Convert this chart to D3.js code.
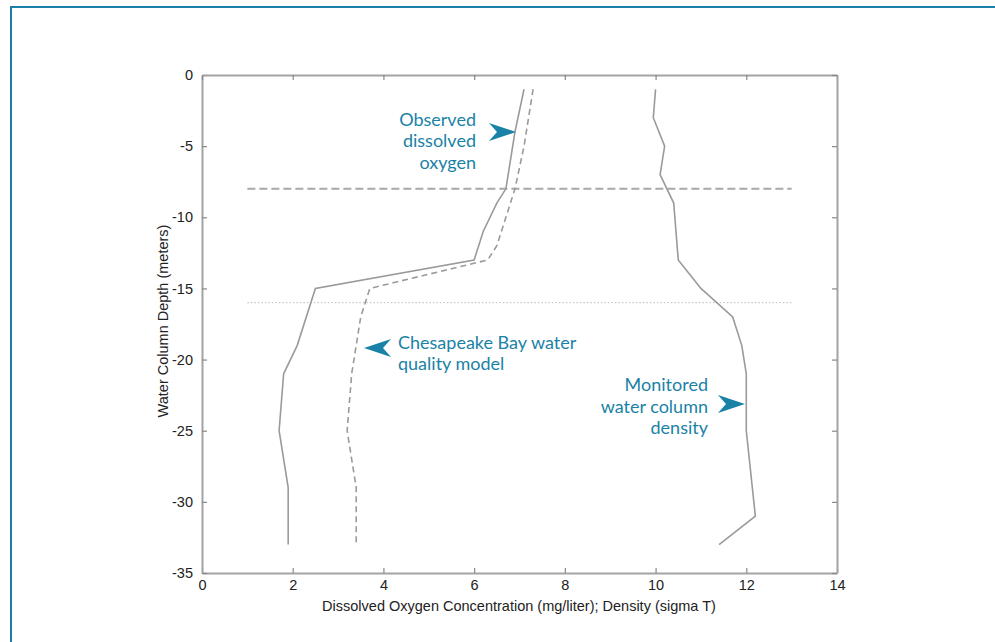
<!DOCTYPE html>
<html>
<head>
<meta charset="utf-8">
<script src="https://cdn.jsdelivr.net/npm/d3@7"></script>
<style>
  body { margin: 0; background: #fff; }
  svg { display: block; }
  .tick text { font-family: "Liberation Sans", Arial, sans-serif; font-size: 14.5px; fill: #222; }
  .axis-label { font-family: "Liberation Sans", Arial, sans-serif; font-size: 14.5px; fill: #222; }
  .note { font-family: Lato, "Open Sans", sans-serif; font-size: 18px; fill: #1a82a6; }
</style>
</head>
<body>
<svg id="chart"></svg>
<script>
// observed dissolved oxygen [mg/l, depth m]
const observedDO = [
  [7.1, -1], [6.9, -4], [6.7, -8], [6.5, -9], [6.2, -11], [6.0, -13],
  [2.5, -15], [2.1, -19], [1.8, -21], [1.7, -25], [1.9, -29], [1.9, -33]
];
// water quality model dissolved oxygen
const modelDO = [
  [7.3, -1], [7.1, -5], [6.9, -8], [6.7, -10], [6.5, -12], [6.3, -13],
  [3.7, -15], [3.5, -17], [3.3, -21], [3.2, -25], [3.4, -29], [3.4, -33]
];
// monitored density (sigma T)
const density = [
  [10.0, -1], [9.95, -3], [10.2, -5], [10.1, -7], [10.4, -9], [10.5, -13],
  [11.0, -15], [11.7, -17], [11.9, -19], [12.0, -21], [12.0, -25],
  [12.2, -31], [11.4, -33]
];
// reference depths: pycnocline bounds
const refLines = [
  {depth: -8, x0: 1, x1: 13, style: 'dash'},
  {depth: -16, x0: 1, x1: 13, style: 'dot'}
];
const xTicks = [0, 2, 4, 6, 8, 10, 12, 14];
const yTicks = [0, -5, -10, -15, -20, -25, -30, -35];

const width = 995, height = 642;
const margin = {top: 75, right: 158, bottom: 69, left: 202};
const innerW = width - margin.left - margin.right;
const innerH = height - margin.top - margin.bottom;

const svg = d3.select('#chart').attr('width', width).attr('height', height);

// page frame
svg.append('path')
  .attr('d', `M11,${height} L11,7 L${width},7`)
  .attr('fill', 'none')
  .attr('stroke', '#1b7fa7')
  .attr('stroke-width', 2);

const xScale = d3.scaleLinear().domain([0, 14]).range([0, innerW]);
const yScale = d3.scaleLinear().domain([-35, 0]).range([innerH, 0]);

const chart = svg.append('g')
  .attr('transform', `translate(${margin.left},${margin.top})`);

const axisColor = '#a3a3a3';
const plain = d => String(d);   // keep hyphen-minus like the original

// axes with inward ticks on all four sides
chart.append('g')
  .attr('transform', `translate(0,${innerH})`)
  .call(d3.axisBottom(xScale).tickValues(xTicks).tickFormat(plain)
    .tickSizeInner(-5).tickSizeOuter(0).tickPadding(7));
chart.append('g')
  .call(d3.axisLeft(yScale).tickValues(yTicks).tickFormat(plain)
    .tickSizeInner(-5).tickSizeOuter(0).tickPadding(9));
chart.append('g')
  .call(d3.axisTop(xScale).tickValues(xTicks).tickSizeInner(-5).tickSizeOuter(0).tickFormat(''));
chart.append('g')
  .attr('transform', `translate(${innerW},0)`)
  .call(d3.axisRight(yScale).tickValues(yTicks).tickSizeInner(-5).tickSizeOuter(0).tickFormat(''));

chart.selectAll('.domain').attr('stroke', axisColor).attr('stroke-width', 2);
chart.selectAll('.tick line').attr('stroke', '#888').attr('stroke-width', 1.2);

// reference lines
chart.selectAll('.ref')
  .data(refLines)
  .join('line')
  .attr('class', 'ref')
  .attr('x1', d => xScale(d.x0))
  .attr('x2', d => xScale(d.x1))
  .attr('y1', d => yScale(d.depth))
  .attr('y2', d => yScale(d.depth))
  .attr('stroke', d => d.style === 'dash' ? '#a8a8a8' : '#bbb')
  .attr('stroke-width', d => d.style === 'dash' ? 2 : 1)
  .attr('stroke-dasharray', d => d.style === 'dash' ? '8,4' : '1.5,2');

const line = d3.line().x(d => xScale(d[0])).y(d => yScale(d[1]));

chart.append('path').datum(observedDO)
  .attr('d', line).attr('fill', 'none')
  .attr('stroke', '#9a9a9a').attr('stroke-width', 1.6);

chart.append('path').datum(modelDO)
  .attr('d', line).attr('fill', 'none')
  .attr('stroke', '#9a9a9a').attr('stroke-width', 1.6)
  .attr('stroke-dasharray', '6,4');

chart.append('path').datum(density)
  .attr('d', line).attr('fill', 'none')
  .attr('stroke', '#9a9a9a').attr('stroke-width', 1.6);

// axis labels
svg.append('text')
  .attr('class', 'axis-label')
  .attr('text-anchor', 'middle')
  .attr('x', 519)
  .attr('y', 611)
  .text('Dissolved Oxygen Concentration (mg/liter); Density (sigma T)');

svg.append('text')
  .attr('class', 'axis-label')
  .attr('text-anchor', 'middle')
  .attr('transform', 'translate(168,321) rotate(-90)')
  .text('Water Column Depth (meters)');

// annotations
const teal = '#1a82a6';
const arrow = (tipX, tipY, dir) => {
  // notched arrowhead, dir = 1 points right, -1 points left
  const L = 27, H = 9, N = 8;
  return `M${tipX},${tipY} L${tipX - dir * L},${tipY - H} L${tipX - dir * (L - N)},${tipY} L${tipX - dir * L},${tipY + H} Z`;
};

// one text element per line
const lineGap = 21.6;
function note(lines, x, y, anchor) {
  svg.append('g').selectAll('text')
    .data(lines)
    .join('text')
    .attr('class', 'note')
    .attr('text-anchor', anchor)
    .attr('x', x)
    .attr('y', (d, i) => y + i * lineGap)
    .text(d => d);
}

note(['Observed', 'dissolved', 'oxygen'], 476, 125.5, 'end');
svg.append('path').attr('d', arrow(516, 132, 1)).attr('fill', teal);

note(['Chesapeake Bay water', 'quality model'], 398, 348.5, 'start');
svg.append('path').attr('d', arrow(364, 348, -1)).attr('fill', teal);

note(['Monitored', 'water column', 'density'], 708, 391, 'end');
svg.append('path').attr('d', arrow(745, 404, 1)).attr('fill', teal);
</script>
</body>
</html>
